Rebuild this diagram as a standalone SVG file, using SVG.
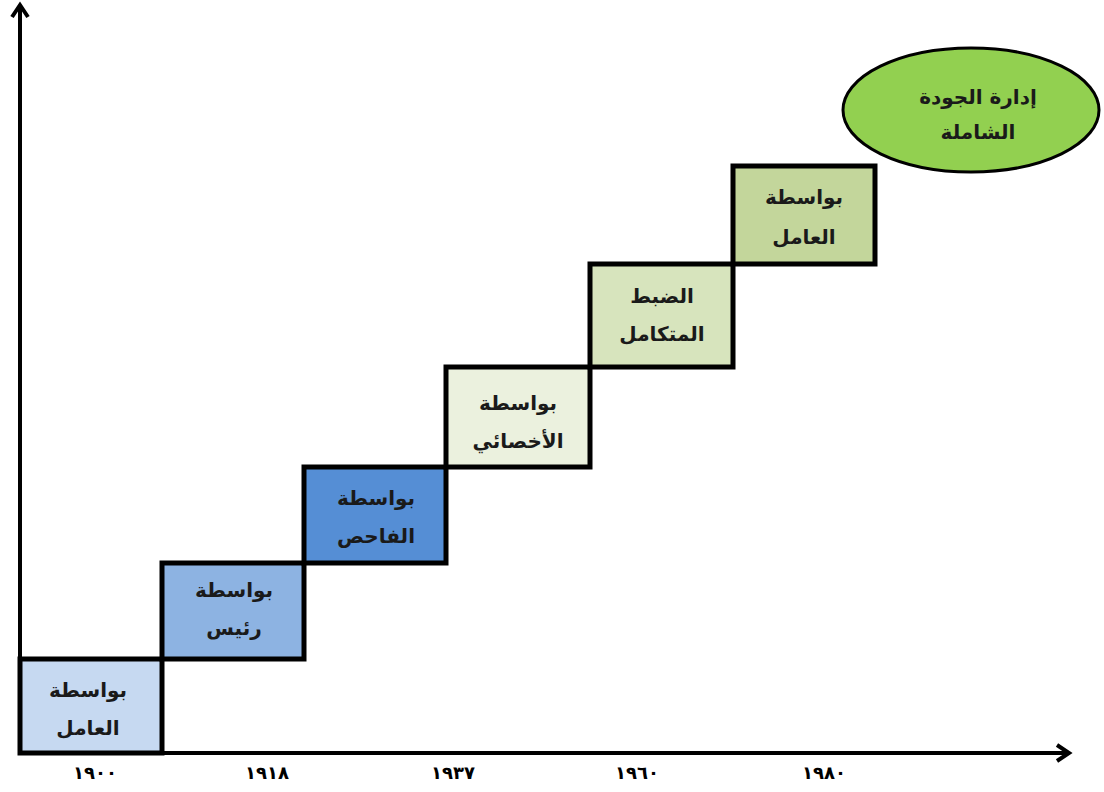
<svg xmlns="http://www.w3.org/2000/svg" width="1104" height="792" viewBox="0 0 1104 792">
  <style>
    .step { stroke: #000; stroke-width: 5; }
    .lbl { font-family: "DejaVu Sans", "Noto Sans", sans-serif; font-weight: bold; font-size: 20px; fill: #1a1a1a; text-anchor: middle; direction: rtl; }
    .yr { font-family: "DejaVu Sans", "Noto Sans", sans-serif; font-weight: bold; font-size: 18px; fill: #000; text-anchor: middle; }
    .axis { stroke: #000; stroke-width: 4; fill: none; }
  </style>
  <defs>
    <marker id="arrowhead" markerWidth="22" markerHeight="22" refX="14" refY="11" orient="auto" markerUnits="userSpaceOnUse" viewBox="0 0 22 22">
      <path d="M3,3 L15,11 L3,19" fill="none" stroke="#000" stroke-width="4" stroke-linejoin="miter"/>
    </marker>
  </defs>
  <rect width="1104" height="792" fill="#fff"/>

  <!-- axes -->
  <g id="connectors">
    <line class="axis" x1="20" y1="755" x2="20" y2="6" marker-end="url(#arrowhead)"/>
    <line class="axis" x1="18" y1="753" x2="1068" y2="753" marker-end="url(#arrowhead)"/>
  </g>

  <!-- staircase of stages -->
  <g id="stage1">
    <rect class="step" x="20" y="659" width="142" height="94" fill="#c6d9f1"/>
    <text class="lbl" x="88" y="697">بواسطة</text>
    <text class="lbl" x="88" y="735">العامل</text>
  </g>
  <g id="stage2">
    <rect class="step" x="162" y="563" width="142" height="96" fill="#8db3e2"/>
    <text class="lbl" x="234" y="597" font-size="17">بواسطة</text>
    <text class="lbl" x="234" y="635" font-size="17">رئيس</text>
  </g>
  <g id="stage3">
    <rect class="step" x="304" y="467" width="142" height="96" fill="#558ed5"/>
    <text class="lbl" x="376" y="505">بواسطة</text>
    <text class="lbl" x="376" y="543">الفاحص</text>
  </g>
  <g id="stage4">
    <rect class="step" x="446" y="367" width="144" height="100" fill="#ebf1de"/>
    <text class="lbl" x="518" y="410">بواسطة</text>
    <text class="lbl" x="518" y="448">الأخصائي</text>
  </g>
  <g id="stage5">
    <rect class="step" x="590" y="264" width="143" height="103" fill="#d7e4bd"/>
    <text class="lbl" x="662" y="303">الضبط</text>
    <text class="lbl" x="662" y="341">المتكامل</text>
  </g>
  <g id="stage6">
    <rect class="step" x="733" y="166" width="142" height="98" fill="#c3d69b"/>
    <text class="lbl" x="804" y="204">بواسطة</text>
    <text class="lbl" x="804" y="244">العامل</text>
  </g>
  <g id="tqm">
    <ellipse cx="971" cy="110" rx="128" ry="62" fill="#92d050" stroke="#000" stroke-width="3"/>
    <text class="lbl" x="978" y="104">إدارة الجودة</text>
    <text class="lbl" x="978" y="139">الشاملة</text>
  </g>

  <!-- years -->
  <g id="years">
    <text class="yr" x="95" y="779">١٩٠٠</text>
    <text class="yr" x="267" y="779">١٩١٨</text>
    <text class="yr" x="453" y="779">١٩٣٧</text>
    <text class="yr" x="637" y="779">١٩٦٠</text>
    <text class="yr" x="824" y="779">١٩٨٠</text>
  </g>
</svg>
